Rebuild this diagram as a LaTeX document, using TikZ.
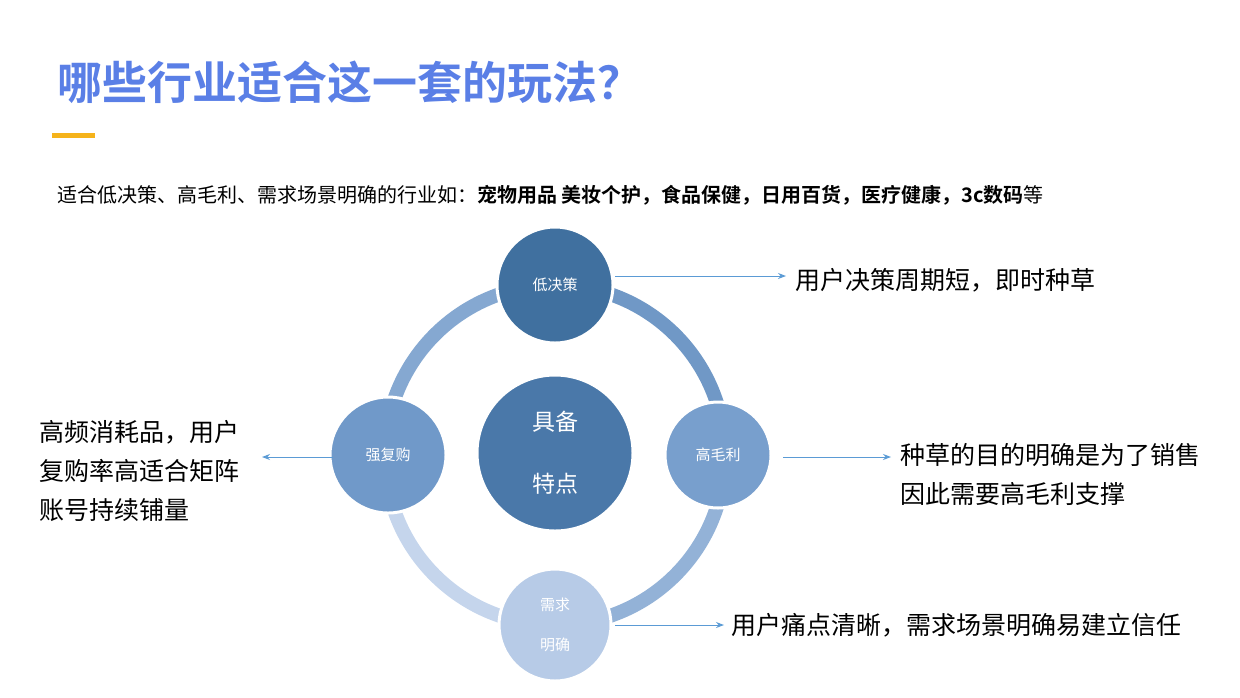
\documentclass[tikz,border=0pt]{standalone}
\usepackage{fontspec}
\setmainfont{Noto Sans CJK SC}
\newfontfamily\cjkb{Noto Sans CJK SC Bold}
\usetikzlibrary{arrows.meta}
\definecolor{ttl}{HTML}{5A7FE6}
\definecolor{orn}{HTML}{F5B31B}
\definecolor{arr}{HTML}{5B9BD5}
\definecolor{ca}{HTML}{40709F}
\definecolor{cc}{HTML}{4A78A9}
\definecolor{cr}{HTML}{789FCD}
\definecolor{cl}{HTML}{7099C9}
\definecolor{cb}{HTML}{B7CBE7}
\tikzset{
  circ/.style={circle,draw=white,line width=1.5pt,minimum size=#1,inner sep=0pt,text=white,align=center,font=\fontsize{7.5}{11}\selectfont},
  lbl/.style={anchor=west,align=left,font=\fontsize{12.5}{19.5}\selectfont},
  link/.style={draw=arr,line width=0.5pt,-{Stealth[length=4pt,width=3pt]}},
  ring/.style={line width=7pt}
}
\begin{document}
\begin{tikzpicture}[x=0.5pt,y=-0.5pt]
\useasboundingbox (0,0) rectangle (1240,697);
\node[anchor=west,text=ttl,font=\cjkb\fontsize{22.5}{24}\selectfont] (title) at (50,82) {哪些行业适合这一套的玩法？};
\draw[orn,line width=2.5pt] (52,135) -- (95,135);
\node[anchor=west,font=\fontsize{10}{12}\selectfont] (head) at (50,195) {适合低决策、高毛利、需求场景明确的行业如：{\cjkb 宠物用品 美妆个护，食品保健，日用百货，医疗健康，3c数码}等};
% ring
\draw[ring,color=cr!85!ca] (555,285) arc (-90:0:170);
\draw[ring,color=cr!80!white] (725,455) arc (0:90:170);
\draw[ring,color=cb!80!white] (555,625) arc (90:180:170);
\draw[ring,color=cl!85!white] (385,455) arc (180:270:170);
\node[circ=156pt/2,fill=cc,font=\fontsize{11.5}{31}\selectfont] (c) at (555,453) {具备\\特点};
\node[circ=116pt/2,fill=ca] (t) at (555,285) {低决策};
\node[circ=106pt/2,fill=cr] (r) at (718,455) {高毛利};
\node[circ=116pt/2,fill=cl] (l) at (388,455) {强复购};
\node[circ=112pt/2,fill=cb,font=\fontsize{7.5}{20}\selectfont] (b) at (555,625) {需求\\明确};
\node[lbl] (tt) at (788,280) {用户决策周期短，即时种草};
\node[lbl] (rt) at (893,474) {种草的目的明确是为了销售\\因此需要高毛利支撑};
\node[lbl] (lt) at (32,471) {高频消耗品，用户\\复购率高适合矩阵\\账号持续铺量};
\node[lbl] (bt) at (724,625) {用户痛点清晰，需求场景明确易建立信任};
\draw[link] (615,276) -- (786,276);
\draw[link] (783,457) -- (891,457);
\draw[link] (333,457) -- (262,457);
\draw[link] (615,625) -- (bt.west);
\end{tikzpicture}
\end{document}
